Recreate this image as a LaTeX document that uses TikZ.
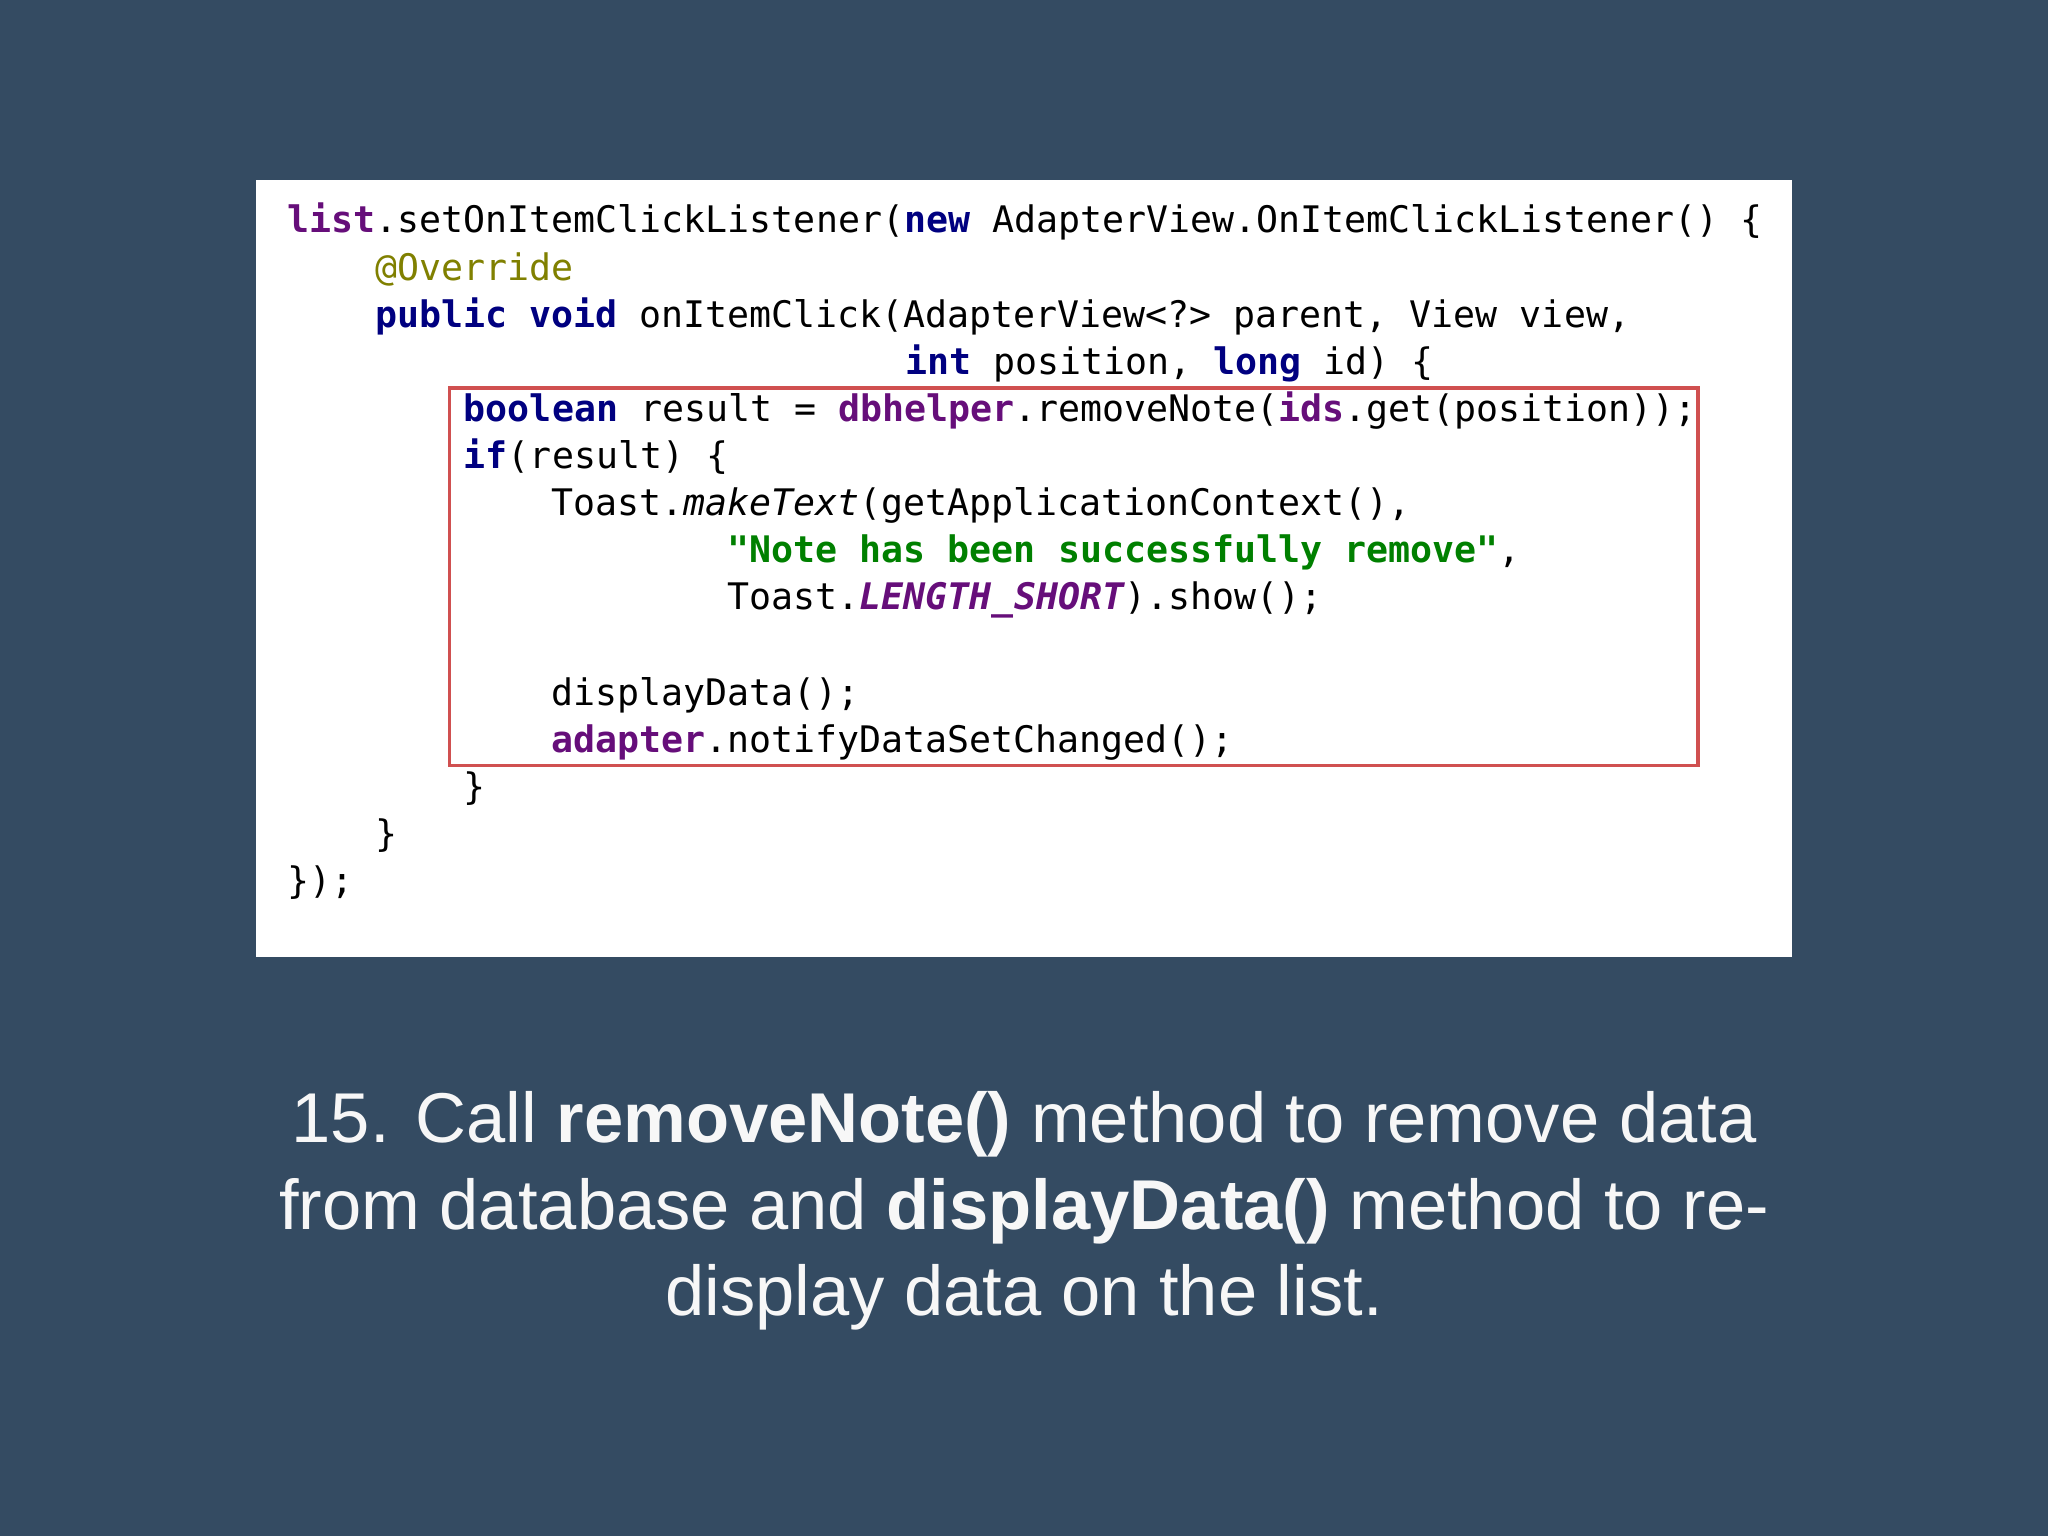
\documentclass[tikz,border=0pt]{standalone}
\usepackage{fontspec}
\setmainfont{Liberation Sans}
\setmonofont{DejaVu Sans Mono}
\definecolor{bg}{HTML}{344B62}
\definecolor{kw}{HTML}{000080}
\definecolor{fld}{HTML}{660E7A}
\definecolor{str}{HTML}{008000}
\definecolor{ann}{HTML}{808000}
\definecolor{redbox}{HTML}{D05050}
\newcommand{\K}[1]{\textbf{\color{kw}#1}}
\newcommand{\F}[1]{\textbf{\color{fld}#1}}
\begin{document}
\begin{tikzpicture}[x=1pt,y=-1pt,
  code/.style={anchor=base west,inner sep=0pt,font=\ttfamily\fontsize{28}{34}\selectfont,text=black},
  captext/.style={anchor=base,inner sep=0pt,font=\fontsize{54}{66}\selectfont,text=white!94!gray}]
\fill[bg] (0,0) rectangle (1568,1176);
\useasboundingbox (0,0) rectangle (1568,1176);
\fill[white] (196,138) rectangle (1372,733);
\node[code] (l1) at (220,178) {\F{list}.setOnItemClickListener(\K{new} AdapterView.OnItemClickListener() \{};
\node[code] (l2) at (287,215) {\color{ann}@Override};
\node[code] (l3) at (287,251) {\K{public} \K{void} onItemClick(AdapterView<?> parent, View view,};
\node[code] (l4) at (693,287) {\K{int} position, \K{long} id) \{};
\node[code] (l5) at (355,323) {\K{boolean} result = \F{dbhelper}.removeNote(\F{ids}.get(position));};
\node[code] (l6) at (355,359) {\K{if}(result) \{};
\node[code] (l7) at (422,395) {Toast.\textit{makeText}(getApplicationContext(),};
\node[code] (l8) at (557,431) {\textbf{\color{str}"Note has been successfully remove"},};
\node[code] (l9) at (557,467) {Toast.\textbf{\textit{\color{fld}LENGTH\_SHORT}}).show();};
\node[code] (l10) at (422,540) {displayData();};
\node[code] (l11) at (422,576) {\F{adapter}.notifyDataSetChanged();};
\node[code] (l12) at (355,612) {\}};
\node[code] (l13) at (287,648) {\}};
\node[code] (l14) at (220,684) {\});};
\draw[redbox,line width=2.5pt] (344,297) rectangle (1300,586);
\node[captext] (c1) at (784,875) {15. Call \textbf{removeNote()} method to remove data};
\node[captext] (c2) at (784,941) {from database and \textbf{displayData()} method to re-};
\node[captext] (c3) at (784,1007) {display data on the list.};
\end{tikzpicture}
\end{document}
